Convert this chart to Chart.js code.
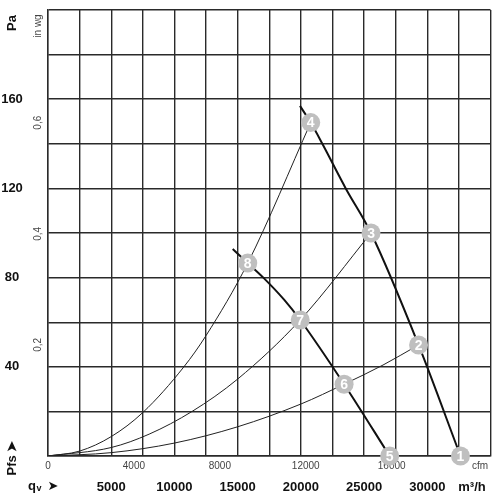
<!DOCTYPE html>
<html>
<head>
<meta charset="utf-8">
<script src="https://cdn.jsdelivr.net/npm/chart.js@4.4.1/dist/chart.umd.min.js"></script>
<style>
  html, body { margin: 0; padding: 0; background: #fff; }
  #wrap { width: 500px; height: 500px; }
</style>
</head>
<body>
<div id="wrap"><canvas id="fanChart" width="500" height="500"></canvas></div>
<script>
// fan curves (q in m3/h, p in Pa)
const fanHighQ = [19930, 20780, 21700, 23550, 25550, 29310, 32625];
const fanHighP = [157, 149.5, 140, 120, 100, 49.8, 0];
const fanLowQ = [14610, 15800, 17030, 18690, 19950, 23420, 27025];
const fanLowP = [92.8, 86.5, 80, 70, 61, 32.2, 0];

// system curves
const sysAQ = [0, 2500, 5000, 7500, 10750, 12500, 15800, 20780];
const sysAP = [0, 2.2, 8.7, 19.5, 40, 54, 86.5, 149.5];
const sysBQ = [0, 5000, 8000, 11400, 15000, 19950, 25550];
const sysBP = [0, 3.8, 9.8, 20, 34.5, 61, 100];
const sysCQ = [0, 5000, 10000, 15000, 20000, 23420, 26500, 29310];
const sysCP = [0, 1.5, 5.8, 13.1, 23.3, 32.2, 40.8, 49.8];

// operating points
const opLabels = ["1", "2", "3", "4", "5", "6", "7", "8"];
const opQ = [32625, 29310, 25550, 20780, 27025, 23420, 19950, 15800];
const opP = [0, 49.8, 100, 149.5, 0, 32.2, 61, 86.5];

// axis labels
const paTicks = [40, 80, 120, 160];
const inwgTicks = [0.2, 0.4, 0.6];
const cfmTicks = [0, 4000, 8000, 12000, 16000];
const m3hTicks = [5000, 10000, 15000, 20000, 25000, 30000];

const pts = (qs, ps) => qs.map((q, i) => ({ x: q, y: ps[i] }));

const curve = (qs, ps, w, col) => ({
    data: pts(qs, ps),
    showLine: true,
    borderColor: col,
    borderWidth: w,
    pointRadius: 0,
    cubicInterpolationMode: "monotone",
    fill: false
});

const textPlugin = {
    id: "fanText",
    beforeDatasetsDraw(chart) {
        const { ctx, scales: { x, y } } = chart;
        ctx.save();
        ctx.fillStyle = "#111";
        ctx.textAlign = "center";
        ctx.textBaseline = "middle";

        ctx.font = "bold 13px 'Liberation Sans', Arial, sans-serif";
        paTicks.forEach(v => ctx.fillText(String(v), 12, y.getPixelForValue(v)));

        // rotated texts
        const rot = (txt, px, py, font, color) => {
            ctx.save();
            ctx.translate(px, py);
            ctx.rotate(-Math.PI / 2);
            ctx.font = font;
            ctx.fillStyle = color;
            ctx.fillText(txt, 0, 0);
            ctx.restore();
        };
        rot("Pa", 12, 23, "bold 13px 'Liberation Sans', Arial, sans-serif", "#111");
        rot("in wg", 38, 26, "10px 'Liberation Sans', Arial, sans-serif", "#444");
        inwgTicks.forEach(v => rot(String(v).replace(".", ","), 38, y.getPixelForValue(v * 249.09),
            "10px 'Liberation Sans', Arial, sans-serif", "#444"));
        rot("Pfs ➤", 12, 458, "bold 13px 'Liberation Sans', Arial, sans-serif", "#111");

        ctx.font = "10px 'Liberation Sans', Arial, sans-serif";
        ctx.fillStyle = "#444";
        cfmTicks.forEach(v => ctx.fillText(String(v), x.getPixelForValue(v / 0.5886), 466));
        ctx.fillText("cfm", 480, 466);

        ctx.font = "bold 13px 'Liberation Sans', Arial, sans-serif";
        ctx.fillStyle = "#111";
        m3hTicks.forEach(v => ctx.fillText(String(v), x.getPixelForValue(v), 487));
        ctx.fillText("m³/h", 472, 487);
        ctx.fillText("q", 32, 486);
        ctx.font = "bold 9px 'Liberation Sans', Arial, sans-serif";
        ctx.fillText("v", 39, 489);
        ctx.font = "bold 13px 'DejaVu Sans', sans-serif";
        ctx.fillText("➤", 53, 487);
        ctx.restore();
    },
    afterDatasetsDraw(chart) {
        const { ctx, scales: { x, y } } = chart;
        ctx.save();
        ctx.fillStyle = "#fff";
        ctx.font = "bold 14px 'Liberation Sans', Arial, sans-serif";
        ctx.textAlign = "center";
        ctx.textBaseline = "middle";
        opLabels.forEach((l, i) => ctx.fillText(l, x.getPixelForValue(opQ[i]), y.getPixelForValue(opP[i]) + 1));
        ctx.restore();
    }
};

new Chart(document.getElementById("fanChart"), {
    type: "scatter",
    data: {
        datasets: [
            {
                data: pts(opQ, opP),
                pointRadius: 9.5,
                pointHoverRadius: 9.5,
                backgroundColor: "#bfbfbf",
                borderWidth: 0,
                clip: false
            },
            curve(fanHighQ, fanHighP, 2, "#111"),
            curve(fanLowQ, fanLowP, 2, "#111"),
            curve(sysAQ, sysAP, 1, "#222"),
            curve(sysBQ, sysBP, 1, "#222"),
            curve(sysCQ, sysCP, 1, "#222")
        ]
    },
    options: {
        responsive: false,
        animation: false,
        layout: { padding: { left: 48, top: 10, right: 8, bottom: 44 } },
        plugins: { legend: { display: false }, tooltip: { enabled: false } },
        scales: {
            x: {
                min: 0, max: 35000,
                ticks: { display: false, stepSize: 2500 },
                grid: { color: "#2a2a2a", lineWidth: 1.4, drawTicks: false },
                border: { color: "#2a2a2a", width: 1.4 }
            },
            y: {
                min: 0, max: 200,
                ticks: { display: false, stepSize: 20 },
                grid: { color: "#2a2a2a", lineWidth: 1.4, drawTicks: false },
                border: { color: "#2a2a2a", width: 1.4 }
            }
        }
    },
    plugins: [textPlugin]
});
</script>
</body>
</html>
